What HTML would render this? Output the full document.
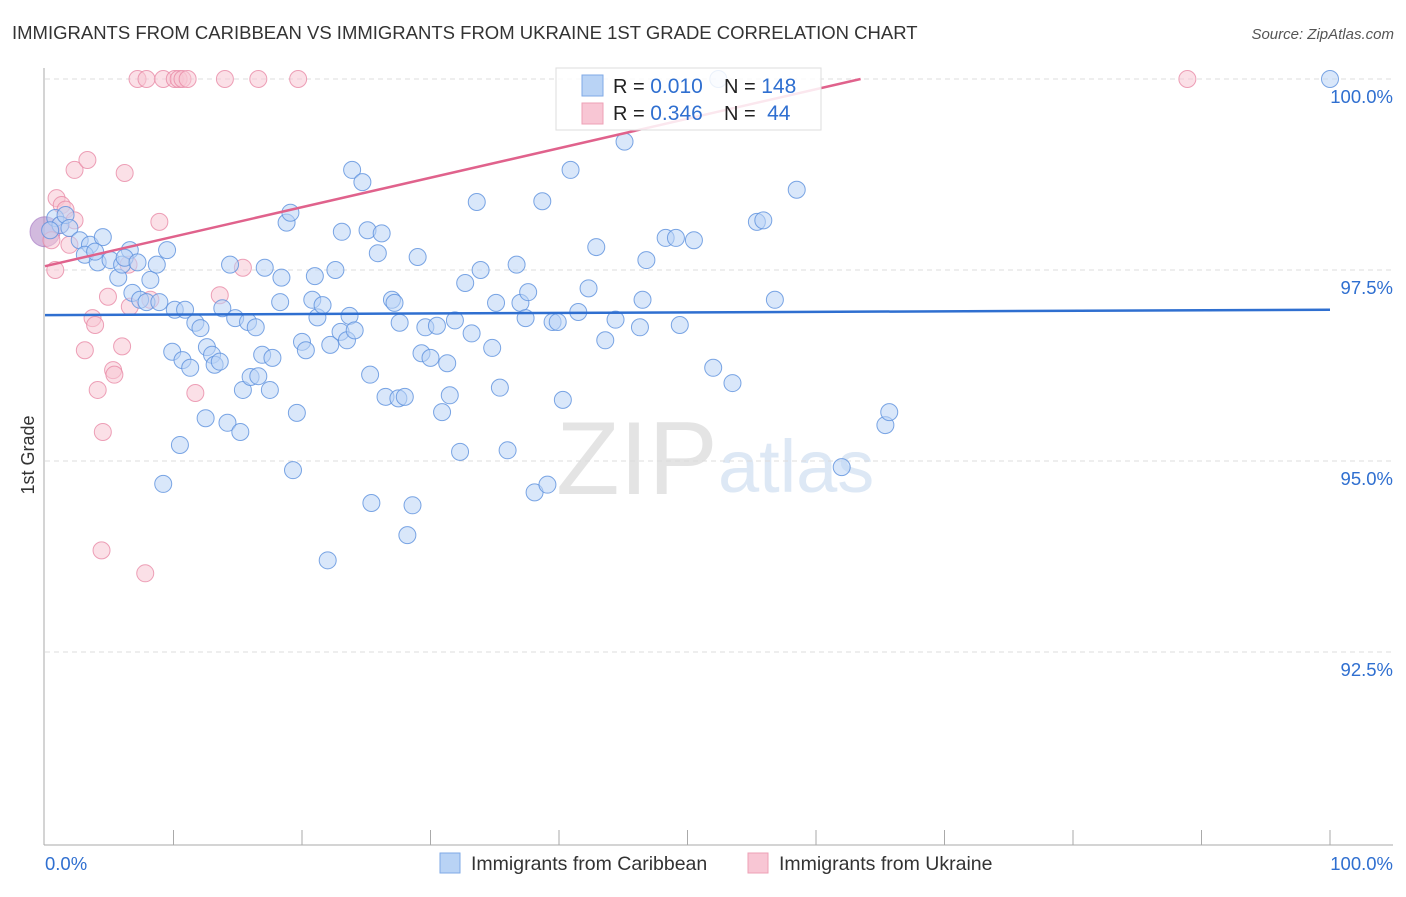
<!DOCTYPE html>
<html><head><meta charset="utf-8">
<style>
body{margin:0;background:#fff;font-family:"Liberation Sans",sans-serif;}
svg text{font-family:"Liberation Sans",sans-serif;}
</style></head>
<body>
<svg id="chart" width="1406" height="892" xmlns="http://www.w3.org/2000/svg">
<text x="12" y="39" font-size="18.5" fill="#333">IMMIGRANTS FROM CARIBBEAN VS IMMIGRANTS FROM UKRAINE 1ST GRADE CORRELATION CHART</text>
<text x="1394" y="39" font-size="15" fill="#555" font-style="italic" text-anchor="end">Source: ZipAtlas.com</text>
<text x="556" y="494" font-size="104" font-family="Liberation Serif, serif" fill="#e4e4e4">ZIP</text>
<text x="718" y="492" font-size="74" fill="#dde8f5">atlas</text>
<g id="grid"></g>
<g id="axes"></g>
<g id="pink"></g>
<g id="blue"></g>
<g id="trends"></g>
<text transform="translate(34,455) rotate(-90)" font-size="18" fill="#333" text-anchor="middle">1st Grade</text>
<g>
<rect x="556" y="68" width="265" height="62" fill="#fff" fill-opacity="0.85" stroke="#ddd"/>
<rect x="582" y="75" width="21" height="21" fill="#b9d3f5" stroke="#7fa9e6"/>
<rect x="582" y="103" width="21" height="21" fill="#f8c6d4" stroke="#eea0b6"/>
<text x="613" y="93" font-size="20" fill="#222">R = <tspan fill="#2f6fd0" font-size="21">0.010</tspan></text>
<text x="724" y="93" font-size="20" fill="#222">N = <tspan fill="#2f6fd0" font-size="21">148</tspan></text>
<text x="613" y="120" font-size="20" fill="#222">R = <tspan fill="#2f6fd0" font-size="21">0.346</tspan></text>
<text x="724" y="120" font-size="20" fill="#222">N = <tspan fill="#2f6fd0" font-size="21">&#160;44</tspan></text>
</g>
<g>
<rect x="440" y="853" width="20" height="20" fill="#b9d3f5" stroke="#7fa9e6"/>
<text x="471" y="870" font-size="19.5" fill="#333">Immigrants from Caribbean</text>
<rect x="748" y="853" width="20" height="20" fill="#f8c6d4" stroke="#eea0b6"/>
<text x="779" y="870" font-size="19.5" fill="#333">Immigrants from Ukraine</text>
</g>
</svg>
<script>
const blueX=[0.8,1.2,1.6,0.4,1.9,2.7,3.5,3.1,4.1,4.5,3.9,5.1,5.7,6.0,6.6,6.2,7.2,6.8,7.4,8.2,7.9,8.7,8.9,9.5,10.1,9.9,10.5,9.2,10.9,10.7,11.3,11.7,12.1,12.5,12.6,13.0,13.2,13.6,13.8,14.2,14.4,14.8,15.2,15.4,15.8,16.0,16.4,16.6,17.1,16.9,17.5,17.7,18.3,18.4,18.8,19.1,19.3,19.6,20.0,20.3,20.8,21.0,21.2,21.6,22.0,22.2,22.6,23.0,23.1,23.5,23.7,23.9,24.1,24.7,25.1,25.3,25.4,25.9,26.2,26.5,27.0,27.2,27.5,27.6,28.0,28.2,28.6,29.0,29.3,29.6,30.0,30.5,30.9,31.3,31.5,31.9,32.3,32.7,33.2,33.6,33.9,34.8,35.1,35.4,36.0,36.7,37.0,37.4,37.6,38.1,38.7,39.1,39.5,39.9,40.3,40.9,41.5,42.3,42.9,43.6,44.4,45.1,46.3,46.5,46.8,48.3,49.1,49.4,50.5,52.0,52.4,53.5,55.4,55.9,56.8,58.5,62.0,65.4,65.7,100];
const blueY=[98.18,98.09,98.22,98.02,98.05,97.89,97.83,97.70,97.60,97.93,97.74,97.63,97.40,97.57,97.76,97.66,97.60,97.20,97.11,97.37,97.08,97.57,97.08,97.76,96.98,96.43,95.21,94.70,96.98,96.32,96.22,96.81,96.74,95.56,96.49,96.39,96.26,96.30,97.00,95.50,97.57,96.87,95.38,95.93,96.82,96.10,96.75,96.11,97.53,96.39,95.93,96.35,97.08,97.40,98.12,98.25,94.88,95.63,96.56,96.45,97.11,97.42,96.88,97.04,93.70,96.52,97.50,96.69,98.00,96.58,96.90,98.81,96.71,98.65,98.02,96.13,94.45,97.72,97.98,95.84,97.11,97.07,95.82,96.81,95.84,94.03,94.42,97.67,96.41,96.75,96.35,96.77,95.64,96.28,95.86,96.84,95.12,97.33,96.67,98.39,97.50,96.48,97.07,95.96,95.14,97.57,97.07,96.87,97.21,94.59,98.40,94.69,96.82,96.82,95.80,98.81,96.95,97.26,97.80,96.58,96.85,99.18,96.75,97.11,97.63,97.92,97.92,96.78,97.89,96.22,100,96.02,98.13,98.15,97.11,98.55,94.92,95.47,95.64,100];
const pinkX=[0.9,1.3,1.6,1.2,2.3,0.5,0.8,1.9,2.3,3.3,6.2,8.9,3.7,3.9,3.1,4.1,6.0,5.3,5.4,4.9,6.5,6.6,8.2,4.5,4.4,7.8,11.7,13.6,15.4,7.2,7.9,9.2,10.1,10.4,10.7,11.1,14.0,16.6,19.7,88.9];
const pinkY=[98.44,98.35,98.29,98.09,98.15,97.89,97.50,97.83,98.81,98.94,98.77,98.13,96.87,96.78,96.45,95.93,96.50,96.19,96.13,97.15,97.57,97.02,97.11,95.38,93.83,93.53,95.89,97.17,97.53,100,100,100,100,100,100,100,100,100,100,100];
const blueTrend=[96.91,96.98];
const pinkTrend=[97.55,0.0386];
const yTicks=[100,97.5,95,92.5];
const yTickLabels=["100.0%","97.5%","95.0%","92.5%"];

const NS="http://www.w3.org/2000/svg";
const X0=45,X1=1330,Y100=79,PXY=76.4;
const sx=v=>X0+(X1-X0)*v/100;
const sy=v=>Y100+(100-v)*PXY;
function mk(tag,attrs,parent){const e=document.createElementNS(NS,tag);for(const k in attrs)e.setAttribute(k,attrs[k]);parent.appendChild(e);return e;}
const grid=document.getElementById('grid'),axes=document.getElementById('axes');
yTicks.forEach((t,i)=>{
  const l=mk('line',{x1:X0,x2:1393,y1:sy(t),y2:sy(t),stroke:'#ddd','stroke-dasharray':'5,4'},grid);
  
  
  const tx=mk('text',{x:1393,y:sy(t)+24,'font-size':18.5,fill:'#2f6fd0','text-anchor':'end'},grid);
  tx.textContent=yTickLabels[i];
  
  
});
let a=mk('line',{x1:44,x2:44,y1:68,y2:845,stroke:'#aaa'},axes);


a=mk('line',{x1:44,x2:1393,y1:845,y2:845,stroke:'#aaa'},axes);


for(let v=10;v<=100;v+=10){const t=mk('line',{x1:sx(v),x2:sx(v),y1:830,y2:845,stroke:'#aaa'},axes);
  
  }
[["0.0%",45,'start'],["100.0%",1393,'end']].forEach(d=>{const t=mk('text',{x:d[1],y:870,'font-size':18.5,fill:'#2f6fd0','text-anchor':d[2]},axes);t.textContent=d[0];
  
  });
const pg=document.getElementById('pink'),bg=document.getElementById('blue');
let big=mk('circle',{cx:sx(0),cy:sy(98.0),r:15,fill:'#b48cc8','fill-opacity':0.6,stroke:'#a070c0','stroke-opacity':0.6},pg);


pinkX.forEach((x,i)=>{const c=mk('circle',{cx:sx(x),cy:sy(pinkY[i]),r:8.5,fill:'#f8c6d4','fill-opacity':0.55,stroke:'#e88aa6','stroke-opacity':0.8},pg);
  
  });
blueX.forEach((x,i)=>{const c=mk('circle',{cx:sx(x),cy:sy(blueY[i]),r:8.5,fill:'#b9d3f5','fill-opacity':0.55,stroke:'#5b90dd','stroke-opacity':0.8},bg);
  
  });
const tg=document.getElementById('trends');
let bl=mk('line',{x1:sx(0),y1:sy(blueTrend[0]),x2:sx(100),y2:sy(blueTrend[1]),stroke:'#2f6fd0','stroke-width':2.5},tg);


const pEnd=(100-pinkTrend[0])/pinkTrend[1];
let pl=mk('line',{x1:sx(0),y1:sy(pinkTrend[0]),x2:sx(pEnd),y2:sy(100),stroke:'#e0628c','stroke-width':2.5},tg);


</script>
</body></html>
